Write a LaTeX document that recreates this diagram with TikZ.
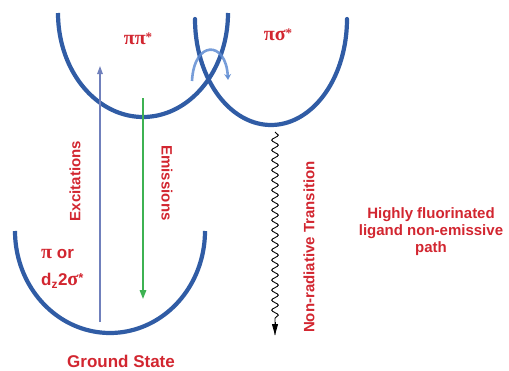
\documentclass[tikz,border=0pt]{standalone}
\usepackage{fontspec}
\setmainfont{Liberation Sans}
\newfontfamily\grk{Liberation Serif}
\usetikzlibrary{arrows.meta,decorations.pathmorphing}
\definecolor{curveblue}{RGB}{48,92,165}
\definecolor{lightarc}{RGB}{95,140,210}
\definecolor{lblred}{RGB}{210,38,48}
\definecolor{excblue}{RGB}{112,128,188}
\definecolor{emgreen}{RGB}{62,178,82}
\newcommand{\sstar}{\raisebox{0.35ex}{\fontsize{13}{13}\selectfont\bfseries *}}
\tikzset{
  pes/.style={draw=curveblue, line width=4.2pt},
  lbl/.style={text=lblred, font=\fontsize{15}{17}\selectfont\bfseries, inner sep=0pt},
  grklbl/.style={text=lblred, font=\grk\fontsize{20}{22}\selectfont\bfseries, inner sep=0pt},
}
\begin{document}
\begin{tikzpicture}[x=1pt,y=-1pt]
\useasboundingbox (0,0) rectangle (509,370);
% potential energy curves
\draw[pes] plot[domain=180:360, samples=80] ({143+85*cos(\x)}, {13-104*sin(\x)});
\draw[pes, line cap=round] plot[domain=180:360, samples=80] ({271+76*cos(\x)}, {19-106*sin(\x)});
\draw[pes] plot[domain=180:360, samples=80] ({110+95*cos(\x)}, {231-102*sin(\x)});
% crossing arrow
\coordinate (cl) at (192,81);
\coordinate (cr) at (228,80);
\draw[lightarc, line width=2.6pt, opacity=0.85, -{Stealth[length=6pt,width=7pt]}]
  (cl) .. controls (194,40) and (226,40) .. (cr);
% excitation / emission
\coordinate (exb) at (100,322);
\coordinate (ext) at (100,66);
\draw[excblue, line width=1.3pt, -{Triangle[length=8pt,width=5.5pt]}] (exb) -- (ext);
\coordinate (emt) at (143,98);
\coordinate (emb) at (143,299);
\draw[emgreen, line width=1.6pt, -{Triangle[length=9pt,width=6.5pt]}] (emt) -- (emb);
% non-radiative
\coordinate (nrt) at (275,132);
\coordinate (nrb) at (275,335);
\draw[black, line width=0.9pt, decorate, decoration={snake, amplitude=3.3pt, segment length=10pt, post length=13pt}]
  (nrt) -- (nrb);
\draw[black, line width=0.9pt, -{Triangle[length=11pt,width=6pt]}] (275,322) -- (nrb);
% labels
\node[grklbl] (pp) at (138,39) {ππ\sstar};
\node[grklbl] (ps) at (278,35) {πσ\sstar};
\node[lbl, rotate=90] (exc) at (75,181) {Excitations};
\node[lbl, rotate=-90] (emi) at (167,183) {Emissions};
\node[lbl, rotate=90] (nrl) at (309,247) {Non-radiative Transition};
\node[lbl, align=center] (hf) at (431,232) {Highly fluorinated\\ligand non-emissive\\path};
\node[lbl, anchor=west, font=\fontsize{17}{19}\selectfont\bfseries] (por) at (41,254) {{\grk\fontsize{20}{20}\selectfont π} or};
\node[lbl, anchor=west, font=\fontsize{17}{19}\selectfont\bfseries] (dz) at (41,281) {d\textsubscript{z}2{\grk\fontsize{20}{20}\selectfont σ}\sstar};
\node[lbl, font=\fontsize{17}{19}\selectfont\bfseries] (gs) at (121,361) {Ground State};
\end{tikzpicture}
\end{document}
